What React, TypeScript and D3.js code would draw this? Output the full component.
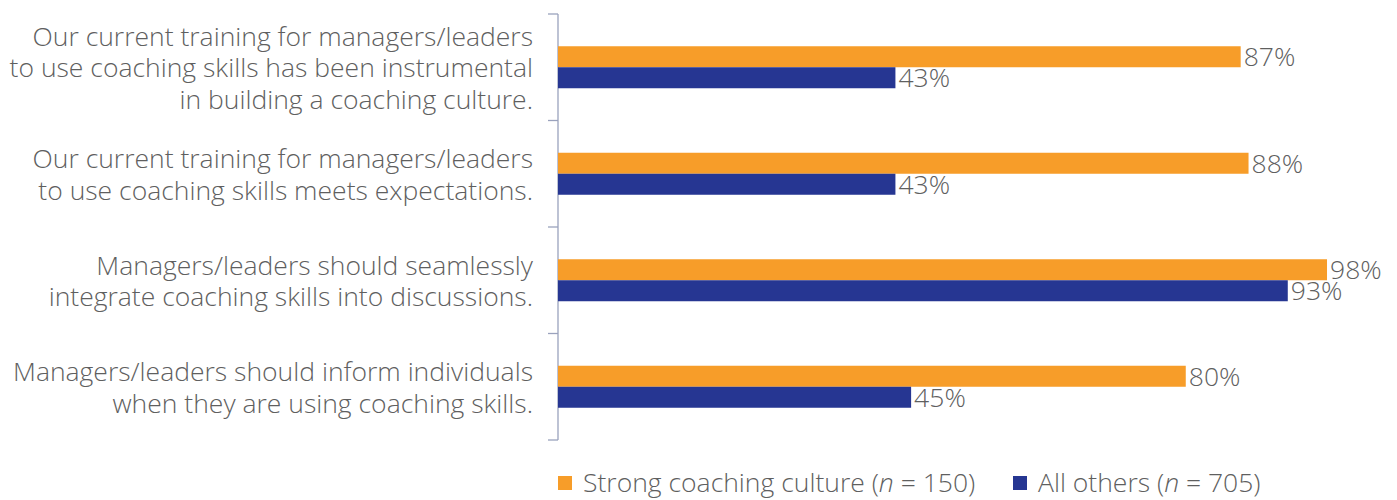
import React from "react";
import * as d3 from "d3";

// category labels, already split into lines as in the original
const categories = [
  ["Our current training for managers/leaders", "to use coaching skills has been instrumental", "in building a coaching culture."],
  ["Our current training for managers/leaders", "to use coaching skills meets expectations."],
  ["Managers/leaders should seamlessly", "integrate coaching skills into discussions."],
  ["Managers/leaders should inform individuals", "when they are using coaching skills."],
];
const strongValues = [87, 88, 98, 80];
const otherValues = [43, 43, 93, 45];
const seriesNames = ["Strong coaching culture", "All others"];
const seriesN = [150, 705];

const ORANGE = "#F79D29";
const BLUE = "#263692";
const TEXT = "#5f5f5f";
const AXIS = "#9aa2bd";
const FONT = "'Open Sans', sans-serif";

const App = () => {
  const width = 1397;
  const height = 500;
  const axisX = 558;

  const x = d3.scaleLinear().domain([0, 100]).range([axisX, axisX + 784.7]);
  const y = d3.scaleBand<number>()
    .domain(d3.range(categories.length))
    .range([14, 440])
    .paddingInner(0)
    .paddingOuter(0);
  const bh = 21;
  const lineH = 31.5;
  const fs = 26.5;

  const ticks = d3.range(categories.length + 1).map(i => 14 + i * y.bandwidth());

  return (
    <svg width={width} height={height} style={{ position: "absolute", left: 0, top: 0 }} fontFamily={FONT}>
      {/* axis */}
      <line x1={axisX} x2={axisX} y1={14} y2={440} stroke={AXIS} strokeWidth={1.3} />
      {ticks.map((t, i) => (
        <line key={i} x1={axisX - 10} x2={axisX} y1={t} y2={t} stroke={AXIS} strokeWidth={1.3} />
      ))}

      {categories.map((lines, i) => {
        const c = (y(i) ?? 0) + y.bandwidth() / 2;
        const first = c - ((lines.length - 1) * lineH) / 2;
        return (
          <g key={i}>
            <text textAnchor="end" fontSize={fs} fontWeight={300} fill={TEXT}>
              {lines.map((l, j) => (
                <tspan key={j} x={533} y={first + j * lineH + 10}>{l}</tspan>
              ))}
            </text>
            <rect x={x(0)} y={c - bh} width={x(strongValues[i]) - x(0)} height={bh} fill={ORANGE} />
            <rect x={x(0)} y={c} width={x(otherValues[i]) - x(0)} height={bh} fill={BLUE} />
            <text x={x(strongValues[i]) + 3} y={c - bh / 2 + 9.5} fontSize={fs} fontWeight={300} fill={TEXT}>
              {strongValues[i]}%
            </text>
            <text x={x(otherValues[i]) + 3} y={c + bh / 2 + 9.5} fontSize={fs} fontWeight={300} fill={TEXT}>
              {otherValues[i]}%
            </text>
          </g>
        );
      })}

      {/* legend */}
      <g fontSize={fs} fontWeight={300} fill={TEXT}>
        <rect x={558} y={476} width={14} height={14} fill={ORANGE} />
        <text x={583} y={492}>
          {seriesNames[0]} (<tspan fontStyle="italic">n</tspan> = {seriesN[0]})
        </text>
        <rect x={1013} y={476} width={14} height={14} fill={BLUE} />
        <text x={1038} y={492}>
          {seriesNames[1]} (<tspan fontStyle="italic">n</tspan> = {seriesN[1]})
        </text>
      </g>
    </svg>
  );
};

export default App;
